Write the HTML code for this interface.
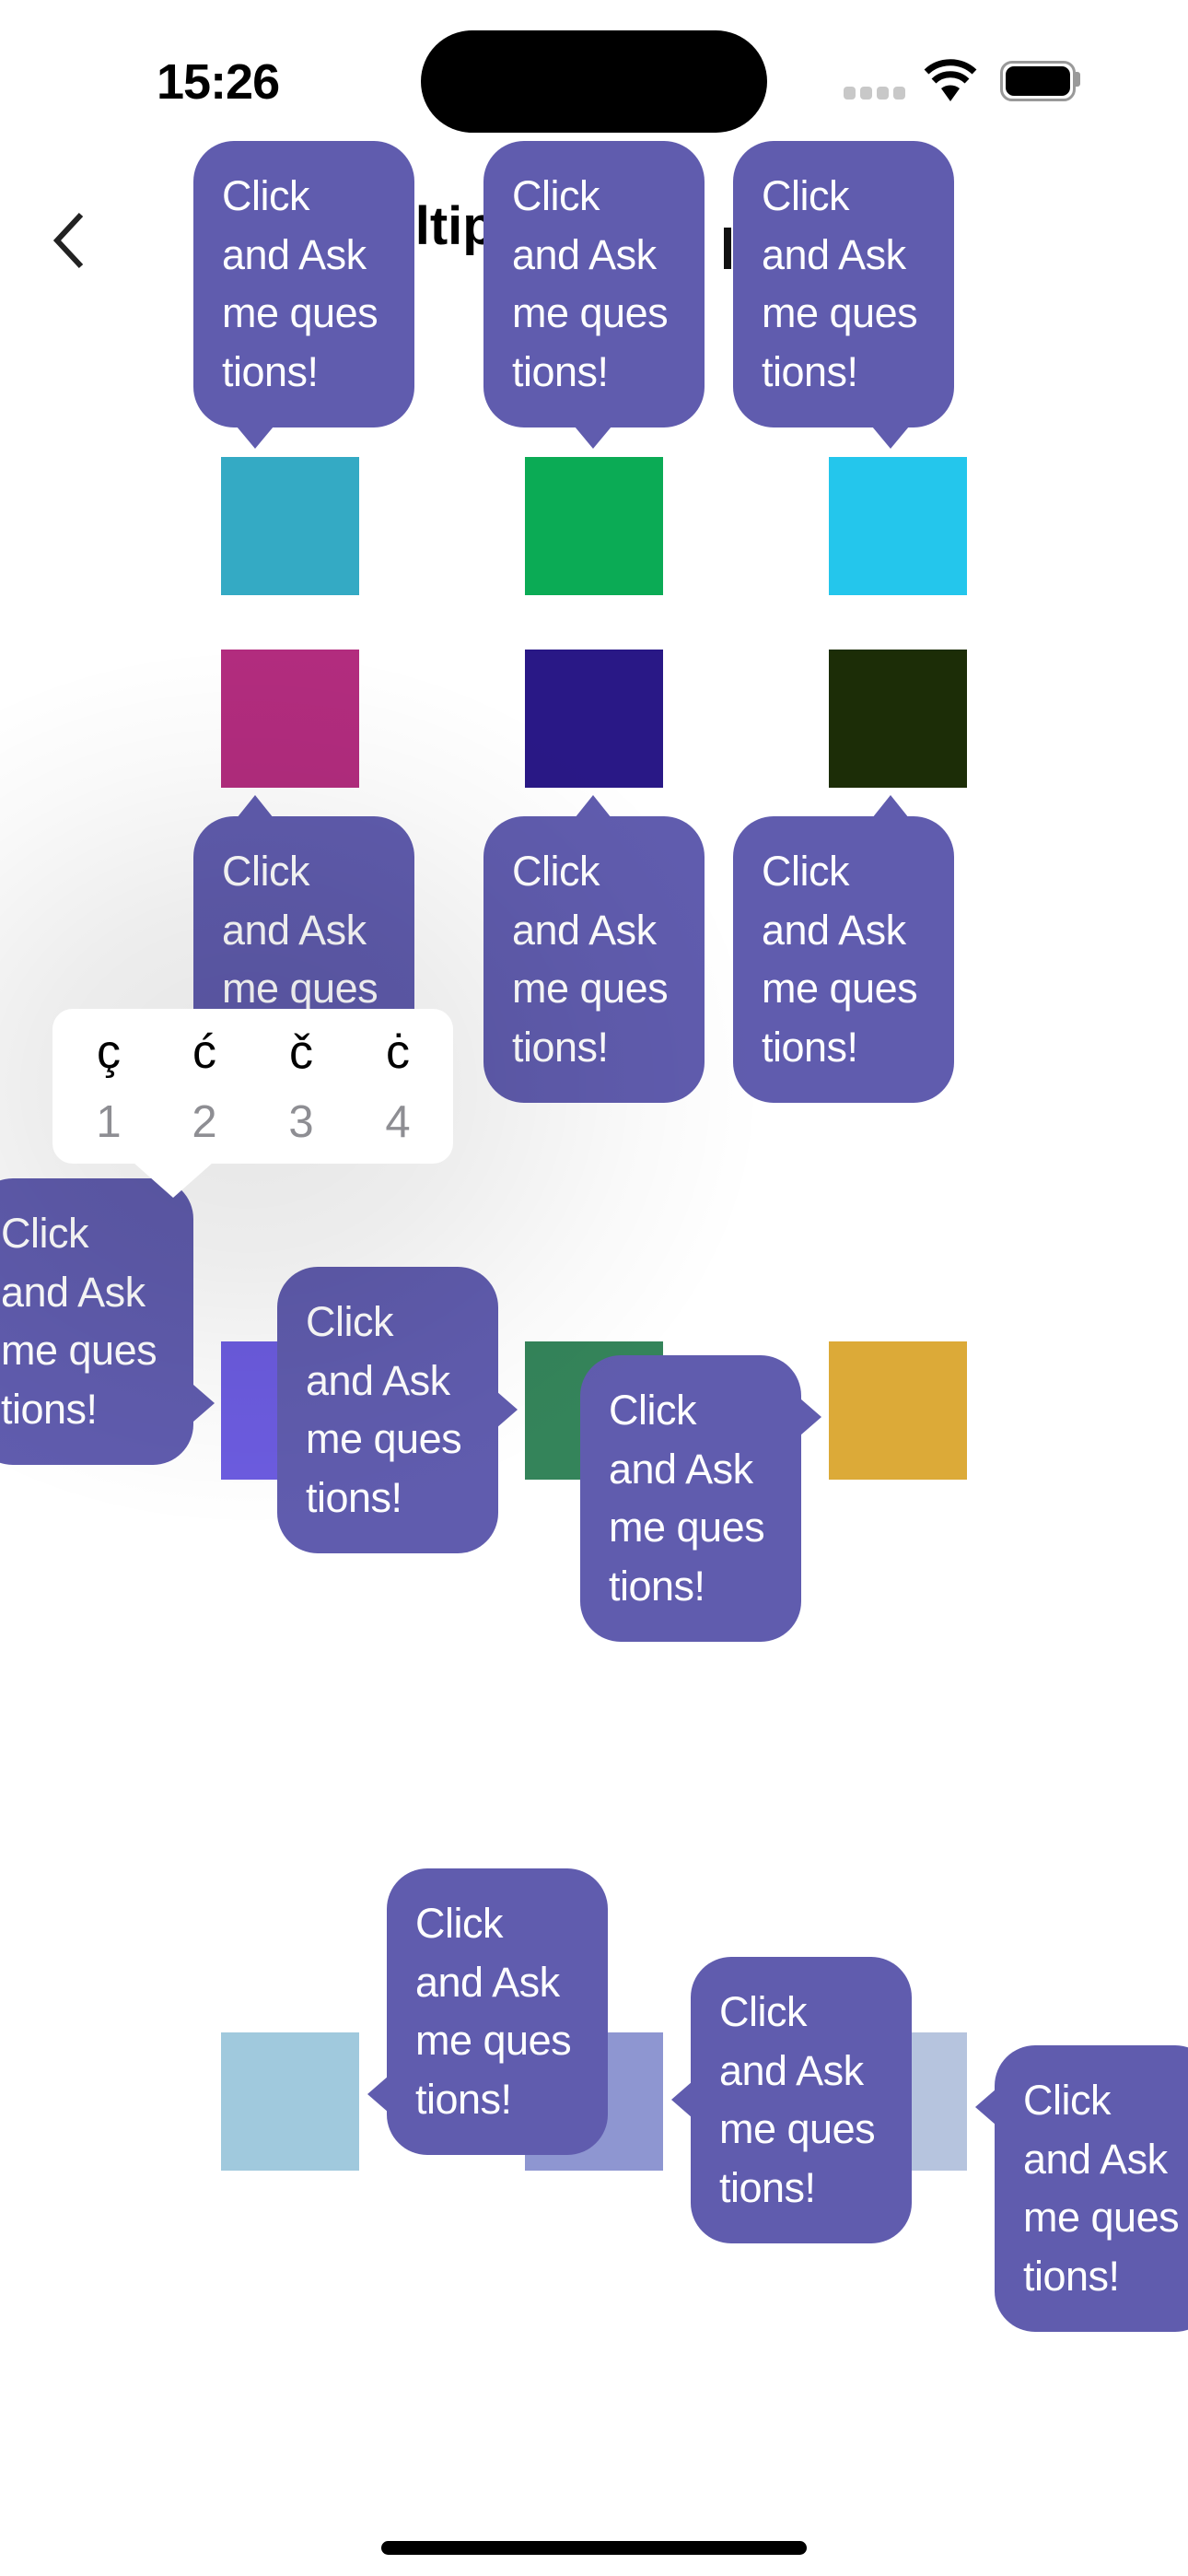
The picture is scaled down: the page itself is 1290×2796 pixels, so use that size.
<!DOCTYPE html>
<html><head><meta charset="utf-8">
<style>
html,body{margin:0;padding:0;}
body{width:1290px;height:2796px;position:relative;overflow:hidden;background:#fff;font-family:"Liberation Sans",sans-serif;}
.a{position:absolute;}
.sq{position:absolute;width:150px;height:150px;}
.b{position:absolute;width:240px;height:311px;background:#605cae;border-radius:44px;box-sizing:border-box;padding:28px 0 0 31px;color:#fff;font-size:45px;line-height:63.5px;white-space:nowrap;letter-spacing:-0.5px;}
.t{position:absolute;width:0;height:0;}
</style></head><body>

<!-- status bar -->
<div class="a" style="left:170px;top:58px;font-size:54px;font-weight:bold;letter-spacing:-1px;">15:26</div>
<div class="a" style="left:457px;top:33px;width:376px;height:111px;background:#000;border-radius:56px;"></div>
<div class="a" style="left:916px;top:94px;width:13px;height:14px;background:#c8c8c8;border-radius:4px;"></div>
<div class="a" style="left:934px;top:94px;width:13px;height:14px;background:#c8c8c8;border-radius:4px;"></div>
<div class="a" style="left:952px;top:94px;width:13px;height:14px;background:#c8c8c8;border-radius:4px;"></div>
<div class="a" style="left:970px;top:94px;width:13px;height:14px;background:#c8c8c8;border-radius:4px;"></div>
<svg class="a" style="left:1002px;top:64px" width="60" height="46" viewBox="0 0 60 46">
<path d="M30 46 L20 32 A16 16 0 0 1 40 32 Z" fill="#000"/>
<path d="M12 24 A26 26 0 0 1 48 24" stroke="#000" stroke-width="7" fill="none"/>
<path d="M4 14 A38 38 0 0 1 56 14" stroke="#000" stroke-width="7" fill="none"/>
</svg>
<div class="a" style="left:1086px;top:66px;width:76px;height:38px;border:3px solid #999;border-radius:13px;"></div>
<div class="a" style="left:1092px;top:72px;width:70px;height:32px;background:#000;border-radius:9px;"></div>
<div class="a" style="left:1168px;top:78px;width:5px;height:16px;background:#999;border-radius:0 3px 3px 0;"></div>

<!-- nav -->
<svg class="a" style="left:52px;top:228px" width="44" height="66" viewBox="0 0 44 66"><path d="M36 5 L10 33 L36 61" stroke="#222" stroke-width="6" fill="none"/></svg>
<div class="a" style="left:367px;top:212px;font-size:58px;font-weight:bold;">Multiple</div>
<div class="a" style="left:786px;top:247px;width:8px;height:45px;background:#111;"></div>

<!-- squares -->
<div class="sq" style="left:240px;top:496px;background:#34aac4"></div>
<div class="sq" style="left:570px;top:496px;background:#0bab55"></div>
<div class="sq" style="left:900px;top:496px;background:#24c6ec"></div>
<div class="sq" style="left:240px;top:705px;background:#b22c7e"></div>
<div class="sq" style="left:570px;top:705px;background:#291886"></div>
<div class="sq" style="left:900px;top:705px;background:#1c2d07"></div>
<div class="sq" style="left:240px;top:1456px;background:#6c5ce0"></div>
<div class="sq" style="left:570px;top:1456px;background:#34845a"></div>
<div class="sq" style="left:900px;top:1456px;background:#dcaa38"></div>
<div class="sq" style="left:240px;top:2206px;background:#a0c9dd"></div>
<div class="sq" style="left:570px;top:2206px;background:#8e96d1"></div>
<div class="sq" style="left:900px;top:2206px;background:#b6c4de"></div>

<!-- top bubbles (tail down) -->
<div class="b" style="left:210px;top:153px">Click<br>and Ask<br>me ques<br>tions!</div>
<div class="t" style="left:257px;top:463px;border-left:20px solid transparent;border-right:20px solid transparent;border-top:24px solid #605cae"></div>
<div class="b" style="left:525px;top:153px">Click<br>and Ask<br>me ques<br>tions!</div>
<div class="t" style="left:624px;top:463px;border-left:20px solid transparent;border-right:20px solid transparent;border-top:24px solid #605cae"></div>
<div class="b" style="left:796px;top:153px">Click<br>and Ask<br>me ques<br>tions!</div>
<div class="t" style="left:947px;top:463px;border-left:20px solid transparent;border-right:20px solid transparent;border-top:24px solid #605cae"></div>

<!-- second row bubbles (tail up) -->
<div class="t" style="left:257px;top:863px;border-left:20px solid transparent;border-right:20px solid transparent;border-bottom:25px solid #605cae"></div>
<div class="b" style="left:210px;top:886px">Click<br>and Ask<br>me ques<br>tions!</div>
<div class="t" style="left:624px;top:863px;border-left:20px solid transparent;border-right:20px solid transparent;border-bottom:25px solid #605cae"></div>
<div class="b" style="left:525px;top:886px">Click<br>and Ask<br>me ques<br>tions!</div>
<div class="t" style="left:947px;top:863px;border-left:20px solid transparent;border-right:20px solid transparent;border-bottom:25px solid #605cae"></div>
<div class="b" style="left:796px;top:886px">Click<br>and Ask<br>me ques<br>tions!</div>

<!-- third row (tail right) -->
<div class="b" style="left:-30px;top:1279px">Click<br>and Ask<br>me ques<br>tions!</div>
<div class="t" style="left:210px;top:1503px;border-top:20px solid transparent;border-bottom:20px solid transparent;border-left:23px solid #605cae"></div>
<div class="b" style="left:301px;top:1375px">Click<br>and Ask<br>me ques<br>tions!</div>
<div class="t" style="left:539px;top:1510px;border-top:20px solid transparent;border-bottom:20px solid transparent;border-left:23px solid #605cae"></div>
<div class="b" style="left:630px;top:1471px">Click<br>and Ask<br>me ques<br>tions!</div>
<div class="t" style="left:869px;top:1518px;border-top:20px solid transparent;border-bottom:20px solid transparent;border-left:23px solid #605cae"></div>

<!-- fourth row (tail left) -->
<div class="t" style="left:399px;top:2253px;border-top:20px solid transparent;border-bottom:20px solid transparent;border-right:23px solid #605cae"></div>
<div class="b" style="left:420px;top:2028px">Click<br>and Ask<br>me ques<br>tions!</div>
<div class="t" style="left:729px;top:2259px;border-top:20px solid transparent;border-bottom:20px solid transparent;border-right:23px solid #605cae"></div>
<div class="b" style="left:750px;top:2124px">Click<br>and Ask<br>me ques<br>tions!</div>
<div class="t" style="left:1059px;top:2267px;border-top:20px solid transparent;border-bottom:20px solid transparent;border-right:23px solid #605cae"></div>
<div class="b" style="left:1080px;top:2220px">Click<br>and Ask<br>me ques<br>tions!</div>

<!-- shadow overlay -->
<div class="a" style="left:0;top:0;width:1290px;height:2796px;background:radial-gradient(ellipse 560px 480px at 270px 1180px, rgba(0,0,0,0.10) 0%, rgba(0,0,0,0.07) 40%, rgba(0,0,0,0.025) 75%, rgba(0,0,0,0) 100%);"></div>

<!-- popup -->
<div class="a" style="left:57px;top:1095px;width:435px;height:168px;background:#fff;border-radius:22px;"></div>
<div class="t" style="left:145px;top:1262px;border-left:43px solid transparent;border-right:43px solid transparent;border-top:38px solid #fff"></div>
<div class="a" style="left:88px;top:1112px;width:60px;text-align:center;font-size:52px;">ç</div>
<div class="a" style="left:192px;top:1112px;width:60px;text-align:center;font-size:52px;">ć</div>
<div class="a" style="left:297px;top:1112px;width:60px;text-align:center;font-size:52px;">č</div>
<div class="a" style="left:402px;top:1112px;width:60px;text-align:center;font-size:52px;">ċ</div>
<div class="a" style="left:88px;top:1190px;width:60px;text-align:center;font-size:49px;color:#8e8e93;">1</div>
<div class="a" style="left:192px;top:1190px;width:60px;text-align:center;font-size:49px;color:#8e8e93;">2</div>
<div class="a" style="left:297px;top:1190px;width:60px;text-align:center;font-size:49px;color:#8e8e93;">3</div>
<div class="a" style="left:402px;top:1190px;width:60px;text-align:center;font-size:49px;color:#8e8e93;">4</div>

<!-- home indicator -->
<div class="a" style="left:414px;top:2758px;width:462px;height:15px;background:#000;border-radius:8px;"></div>
</body></html>
